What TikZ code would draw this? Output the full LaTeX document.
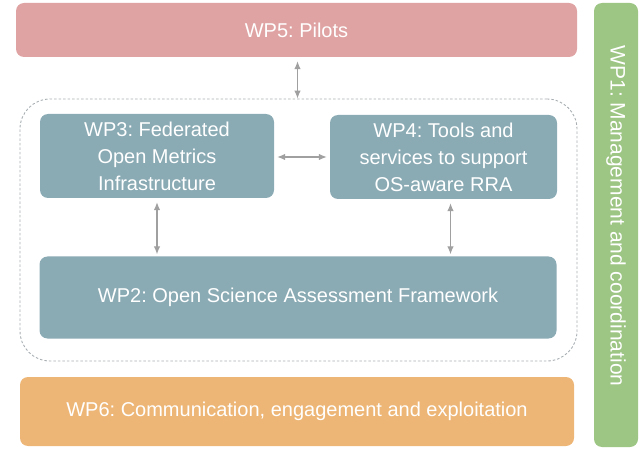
\documentclass[tikz,border=0pt]{standalone}
\usepackage{fontspec}
\setmainfont{Liberation Sans}
\usetikzlibrary{arrows.meta}
\definecolor{pilot}{HTML}{E0A3A3}
\definecolor{teal}{HTML}{8AAAB4}
\definecolor{orng}{HTML}{EDB676}
\definecolor{grn}{HTML}{9DC583}
\definecolor{dash}{HTML}{A8AEB2}
\definecolor{arr}{HTML}{A0A0A0}
\frenchspacing
\tikzset{
  wpbox/.style={rectangle, rounded corners=8pt, inner sep=0pt, text=white,
    font=\fontsize{20}{27}\selectfont, align=center},
  link/.style={arr, line width=1.1pt, {Latex[length=8pt,width=6.5pt]}-{Latex[length=8pt,width=6.5pt]}}
}
\begin{document}
\begin{tikzpicture}[x=1pt,y=-1pt]
\useasboundingbox (0,0) rectangle (640,449);
\node[wpbox, fill=pilot, minimum width=561pt, minimum height=54pt] (wp5) at (296.5,30) {WP5: Pilots};
\node[wpbox, fill=grn, minimum width=44pt, minimum height=444pt] (wp1) at (616,225) {};
\node[text=white, font=\fontsize{21}{24}\selectfont, rotate=-90] (wp1t) at (616,216) {WP1: Management and coordination};
\node[rectangle, draw=dash, dashed, dash pattern=on 2.5pt off 2pt, line width=0.9pt, rounded corners=30pt,
  minimum width=557pt, minimum height=262pt] (core) at (298.5,230) {};
\node[wpbox, fill=teal, minimum width=234pt, minimum height=84pt] (wp3) at (157,156) {WP3: Federated\\Open Metrics\\Infrastructure};
\node[wpbox, fill=teal, minimum width=227pt, minimum height=84pt] (wp4) at (443.5,157) {WP4: Tools and\\services to support\\OS-aware RRA};
\node[wpbox, fill=teal, minimum width=517pt, minimum height=82pt] (wp2) at (298,297.5) {WP2: Open Science Assessment Framework};
\node[wpbox, fill=orng, minimum width=554pt, minimum height=69pt] (wp6) at (297,411.5) {WP6: Communication, engagement and exploitation};
\coordinate (a5) at ([xshift=1pt,yshift=-4pt]wp5.south);
\draw[link] (a5) -- (a5 |- core.north);
\draw[link] ([xshift=3pt]wp3.east |- 0,157) -- ([xshift=-3pt]wp4.west |- 0,157);
\draw[link] ([yshift=-4pt]wp3.south) -- ([yshift=2pt]wp3.south |- wp2.north);
\coordinate (a4) at ([xshift=7pt,yshift=-4pt]wp4.south);
\draw[link] (a4) -- ([yshift=2pt]a4 |- wp2.north);
\end{tikzpicture}
\end{document}
